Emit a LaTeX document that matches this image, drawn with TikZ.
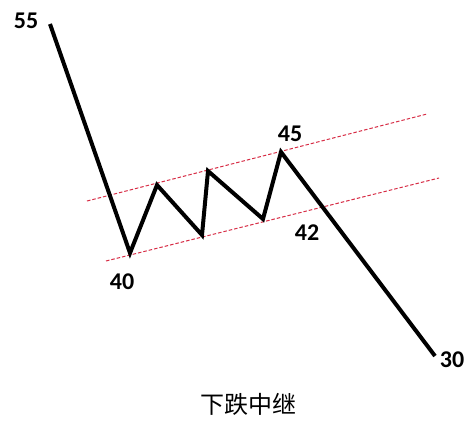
\documentclass[tikz,border=0pt]{standalone}
\usepackage{fontspec}
\setmainfont{Carlito}
\newfontfamily\cjk{Noto Sans CJK SC}
\begin{document}
\begin{tikzpicture}[x=1pt,y=-1pt,
  wave/.style={line width=4pt,line join=miter,black},
  chan/.style={draw={rgb,255:red,215;green,45;blue,70},line width=1pt,dash pattern=on 3.5pt off 2pt},
  num/.style={font=\fontsize{24}{24}\selectfont\bfseries,inner sep=0pt}]
\useasboundingbox (0,0) rectangle (471,426);
\coordinate (a) at (50,24);
\coordinate (b) at (130,253);
\coordinate (c) at (157,185);
\coordinate (d) at (202,235);
\coordinate (e) at (208,171);
\coordinate (f) at (263,219);
\coordinate (g) at (281,152);
\coordinate (h) at (435,356);
\coordinate (u1) at (87,201);
\coordinate (u2) at (427,114);
\coordinate (l1) at (106,261);
\coordinate (l2) at (439,178);
\draw[chan] (u1) -- (u2);
\draw[chan] (l1) -- (l2);
\draw[wave] (a) -- (b) -- (c) -- (d) -- (e) -- (f) -- (g) -- (h);
\node[num] (n55) at (26,21) {55};
\node[num] (n40) at (122,282) {40};
\node[num] (n45) at (290,134) {45};
\node[num] (n42) at (307,233) {42};
\node[num] (n30) at (452,360) {30};
\node[font=\cjk\fontsize{24}{24}\selectfont,inner sep=0pt] (t) at (248,404) {下跌中继};
\end{tikzpicture}
\end{document}
